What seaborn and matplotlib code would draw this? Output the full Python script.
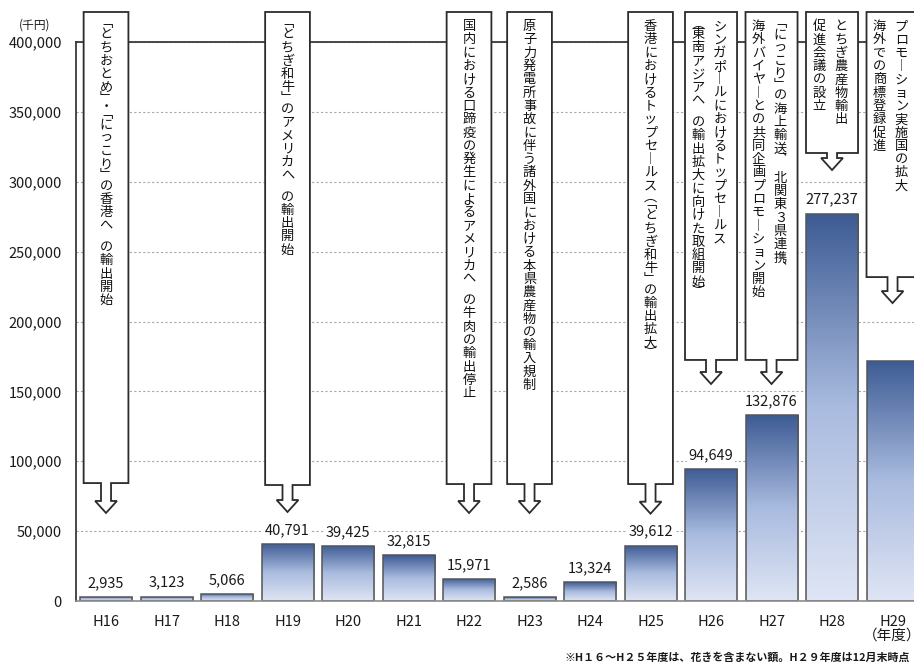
import numpy as np
import matplotlib
matplotlib.use("Agg")
import matplotlib.pyplot as plt
from matplotlib.colors import LinearSegmentedColormap
from matplotlib.patches import Polygon
from matplotlib.ticker import FuncFormatter, MultipleLocator
import seaborn as sns

# データ（千円）
years = ["H16", "H17", "H18", "H19", "H20", "H21", "H22",
         "H23", "H24", "H25", "H26", "H27", "H28", "H29"]
amounts = [2935, 3123, 5066, 40791, 39425, 32815, 15971,
           2586, 13324, 39612, 94649, 132876, 277237, 172000]
labeled_years = years[:-1]  # H29 はラベルなし

# 吹き出し（縦書き）
callout_years = ["H16", "H19", "H22", "H23", "H25", "H26", "H27", "H28", "H29"]
callout_texts = [
    ["「とちおとめ」・「にっこり」の香港へ の輸出開始"],
    ["「とちぎ和牛」のアメリカへ の輸出開始"],
    ["国内における口蹄疫の発生によるアメリカへ の牛肉の輸出停止"],
    ["原子力発電所事故に伴う諸外国における本県農産物の輸入規制"],
    ["香港におけるトップセールス（「とちぎ和牛」の輸出拡大）"],
    ["シンガポールにおけるトップセールス", "（東南アジアへ の輸出拡大に向けた取組開始）"],
    ["「にっこり」の海上輸送、 北関東３県連携、", "海外バイヤーとの共同企画プロモーション開始"],
    ["とちぎ農産物輸出", "促進会議の設立"],
    ["プロモーション実施国の拡大", "海外での商標登録促進"],
]
callout_bottom = [84400, 83000, 83700, 83700, 83700, 172500, 172500, 320600, 231800]
callout_tip = [63000, 63700, 63000, 63000, 62500, 155300, 155300, 308400, 213200]
BOX_TOP = 421500

sns.set_theme(style="white")
plt.rcParams["font.family"] = ["Noto Sans CJK JP", "DejaVu Sans"]

fig = plt.figure(figsize=(9.14, 6.63), dpi=100)
ax = fig.add_axes([0.0829, 0.0935, 0.9267, 0.8431])

sns.barplot(x=years, y=amounts, ax=ax, width=0.86, color="#8fa5d0",
            edgecolor="#555555", linewidth=1.1)

# グラデーション塗り
grad = np.linspace(0, 1, 256).reshape(-1, 1)
cmap = LinearSegmentedColormap.from_list("bar", ["#3d5b94", "#a9bbdf", "#dfe5f4"])
for p in list(ax.patches):
    x0, w, h = p.get_x(), p.get_width(), p.get_height()
    im = ax.imshow(grad, extent=[x0, x0 + w, 0, h], origin="upper",
                   aspect="auto", cmap=cmap, zorder=1.5)
    im.set_clip_path(p)
    p.set_facecolor("none")
    p.set_zorder(2)
ax.set_ylim(0, 400000)
ax.set_xlim(-0.5, len(years) - 0.5)

# 値ラベル
for yr, v in zip(years, amounts):
    if yr not in labeled_years:
        continue
    i = years.index(yr)
    ax.annotate(f"{v:,}", xy=(i, v), xytext=(0, 10), textcoords="offset points",
                ha="center", va="center", fontsize=10.5, color="#1a1a1a", zorder=3,
                bbox=dict(fc="white", ec="none", pad=1.5))

# 軸まわり
ax.yaxis.set_major_locator(MultipleLocator(50000))
ax.yaxis.set_major_formatter(FuncFormatter(lambda v, _: f"{int(v):,}"))
ax.yaxis.grid(True, linestyle=(0, (2, 2)), color="#a8a8a8", linewidth=0.8)
ax.set_axisbelow(True)
ax.tick_params(axis="y", length=0, pad=10, labelsize=10.5, labelcolor="#1a1a1a")
ax.tick_params(axis="x", length=0, pad=10, labelsize=10.5, labelcolor="#1a1a1a")
ticklabels = list(years)
ticklabels[-1] = "H29\n（年度）"
ax.set_xticks(range(len(years)))
ax.set_xticklabels(ticklabels, linespacing=1.0)
ax.set_xlabel("")
ax.set_ylabel("")
for side in ["top", "left"]:
    ax.spines[side].set_color("#3a3a3a")
    ax.spines[side].set_linewidth(1.3)
ax.spines["bottom"].set_color("#8c8c8c")
ax.spines["bottom"].set_linewidth(1.2)
ax.spines["right"].set_visible(False)

# 縦書き吹き出し
VERT = {"「": "﹁", "」": "﹂", "（": "︵", "）": "︶", "ー": "︱", "、": "︑"}
NARROW = set("「」（）、・ ")
PX = 400000 / 559  # 1px あたりの値


def draw_column(x, text):
    off = 8
    for ch in text:
        step = 8 if ch in NARROW else 13.3
        if ch != " ":
            ax.annotate(VERT.get(ch, ch), xy=(x, BOX_TOP),
                        xytext=(0, -(off + step / 2) * 0.72), textcoords="offset points",
                        ha="center", va="center", fontsize=9.5, color="#111111",
                        annotation_clip=False, zorder=6)
        off += step


for yr, cols, bottom, tip in zip(callout_years, callout_texts, callout_bottom, callout_tip):
    c = years.index(yr)
    hw = 0.43 if len(cols) > 1 else 0.37
    sw, hh = 0.083, 0.18
    head = tip + 12 * PX
    pts = [(c - hw, BOX_TOP), (c + hw, BOX_TOP), (c + hw, bottom), (c + sw, bottom),
           (c + sw, head), (c + hh, head), (c, tip), (c - hh, head), (c - sw, head),
           (c - sw, bottom), (c - hw, bottom)]
    ax.add_patch(Polygon(pts, closed=True, facecolor="white", edgecolor="#2b2b2b",
                         linewidth=1.3, zorder=5, clip_on=False))
    if len(cols) == 1:
        draw_column(c, cols[0])
    else:
        draw_column(c - 0.035 + 0.18, cols[0])
        draw_column(c - 0.035 - 0.18, cols[1])

fig.text(0.038, 0.962, "(千円)", ha="center", va="center", fontsize=8.5, color="#1a1a1a")
fig.text(565 / 914, 1 - 658 / 663, "※H１６～H２５年度は、花きを含まない額。H２９年度は12月末時点",
         ha="left", va="center", fontsize=7.9, fontweight="bold", color="#1a1a1a")

fig.savefig("out.png", dpi=100)
